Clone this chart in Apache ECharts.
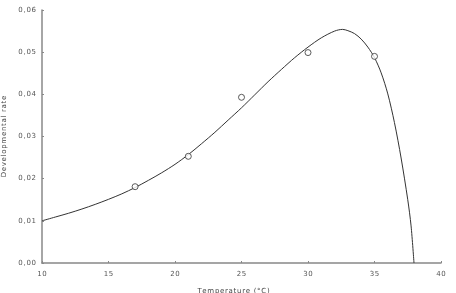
<!DOCTYPE html>
<html>
<head>
<meta charset="utf-8">
<script src="https://cdn.jsdelivr.net/npm/echarts@6/dist/echarts.min.js"></script>
<style>
  html, body { margin: 0; padding: 0; background: #fff; }
  #chart { width: 456px; height: 293px; }
</style>
</head>
<body>
<div id="chart"></div>
<script>
// observed rates
var obsTemp = [17, 21, 25, 30, 35];
var obsRate = [0.0181, 0.0253, 0.0393, 0.0499, 0.0490];

// fitted curve
var fitTemp = [10, 11, 12, 13, 14, 15, 16, 17, 18, 19, 20, 21, 22, 23, 24, 25, 26, 27, 28, 29, 30, 31, 32, 32.6, 33, 33.5, 34, 34.5, 35, 35.5, 36, 36.5, 37, 37.5, 37.75, 37.97];
var fitRate = [0.0100, 0.0109, 0.0118, 0.0128, 0.0139, 0.0151, 0.0164, 0.0179, 0.0196, 0.0214, 0.0234, 0.0257, 0.0283, 0.0310, 0.0339, 0.0368, 0.0399, 0.0430, 0.0459, 0.0487, 0.0512, 0.0534, 0.0550, 0.0554, 0.0551, 0.0544, 0.0531, 0.0512, 0.0487, 0.0451, 0.0401, 0.0333, 0.0249, 0.0150, 0.0088, 0.0];

var chart = echarts.init(document.getElementById('chart'));

var fitData = fitTemp.map(function(t, i){ return [t, fitRate[i]]; });
var obsData = obsTemp.map(function(t, i){ return [t, obsRate[i]]; });

// the original uses wide tracking
function spaced(s){ return s.split('').join('\u200A'); }

var labelStyle = { color: '#555', fontSize: 7, fontFamily: 'DejaVu Sans' };

chart.setOption({
  animation: false,
  grid: { left: 42, right: 15, top: 10, bottom: 30, containLabel: false, outerBoundsMode: 'none' },
  xAxis: {
    type: 'value',
    min: 10, max: 40, interval: 5,
    name: spaced('Temperature (°C)'),
    nameLocation: 'middle',
    nameGap: 25,
    nameTextStyle: { color: '#444', fontSize: 7, fontFamily: 'DejaVu Sans', padding: [0, 16, 0, 0] },
    axisLine: { lineStyle: { color: '#888', width: 1.5 } },
    axisTick: { inside: true, length: 2, lineStyle: { color: '#888' } },
    axisLabel: Object.assign({ margin: 8, formatter: function(v){ return spaced(String(v)); } }, labelStyle),
    splitLine: { show: false }
  },
  yAxis: {
    type: 'value',
    min: 0, max: 0.06, interval: 0.01,
    name: spaced('Developmental rate'),
    nameLocation: 'middle',
    nameGap: 30,
    nameTextStyle: { color: '#444', fontSize: 7, fontFamily: 'DejaVu Sans' },
    axisLine: { show: true, lineStyle: { color: '#888', width: 1.5 } },
    axisTick: { show: true, inside: true, length: 2, lineStyle: { color: '#888' } },
    axisLabel: Object.assign({
      margin: 6,
      formatter: function(v){ return spaced(v.toFixed(2).replace('.', ',')); }
    }, labelStyle),
    splitLine: { show: false }
  },
  series: [
    {
      type: 'line',
      data: fitData,
      smooth: 0.3,
      showSymbol: false,
      lineStyle: { color: '#333', width: 1 },
      z: 2
    },
    {
      type: 'scatter',
      data: obsData,
      symbol: 'circle',
      symbolSize: 6,
      itemStyle: { color: '#fff', borderColor: '#333', borderWidth: 1 },
      z: 3
    }
  ]
});
</script>
</body>
</html>
